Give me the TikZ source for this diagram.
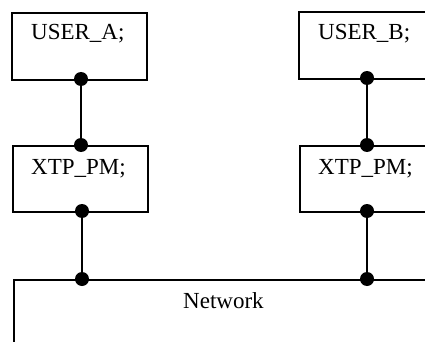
\documentclass[tikz,border=0pt]{standalone}
\usepackage{fontspec}
\setmainfont{Liberation Serif}
\begin{document}
\begin{tikzpicture}[x=1pt,y=-1pt,
  box/.style={draw, line width=1.7pt, anchor=north west, inner sep=0pt, minimum width=135pt, minimum height=67pt},
  lbl/.style={anchor=base west, inner sep=0pt, font=\fontsize{23}{26}\selectfont},
  dot/.style={circle, fill=black, inner sep=0pt, minimum size=14pt},
  wire/.style={line width=1.7pt}]
\useasboundingbox (0,0) rectangle (425,342);
\clip (0,0) rectangle (425,342);
% boxes
\node[box] (ua) at (11,12) {};
\node[box, minimum height=66pt] (xa) at (12,145) {};
\node[box] (ub) at (298,11) {};
\node[box, minimum height=66pt] (xb) at (299,145) {};
\node[box, minimum width=440pt, minimum height=100pt] (net) at (13,279) {};
% labels
\node[lbl] (uat) at (31,40) {USER\_A;};
\node[lbl] (xat) at (31,174) {XTP\_PM;};
\node[lbl] (ubt) at (318,40) {USER\_B;};
\node[lbl] (xbt) at (318,174) {XTP\_PM;};
\node[lbl] (nett) at (183,308) {Network};
% dots
\node[dot] (d1) at (81,79) {};
\node[dot] (d2) at (81,145) {};
\node[dot] (d3) at (82,211) {};
\node[dot] (d4) at (82,279) {};
\node[dot] (d5) at (367,78) {};
\node[dot] (d6) at (367,145) {};
\node[dot] (d7) at (367,211) {};
\node[dot] (d8) at (367,279) {};
% wires
\draw[wire] (d1) -- (d2);
\draw[wire] (d3) -- (d4);
\draw[wire] (d5) -- (d6);
\draw[wire] (d7) -- (d8);
\end{tikzpicture}
\end{document}
